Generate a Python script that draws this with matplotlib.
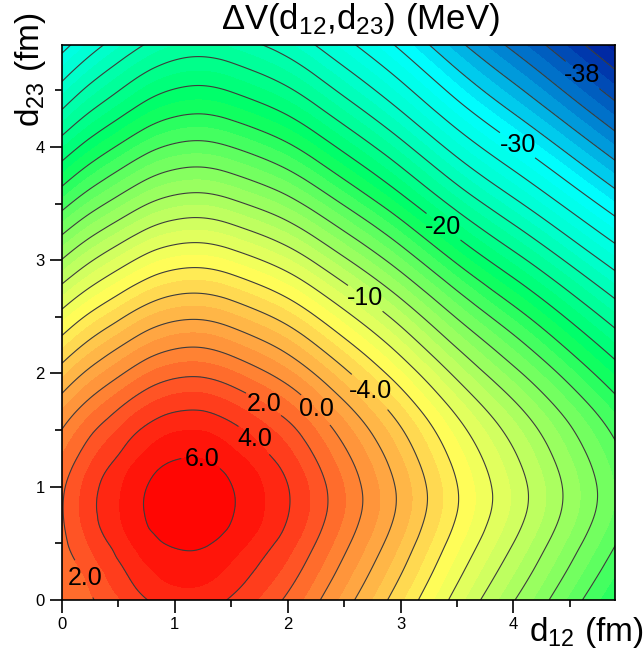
import numpy as np
import matplotlib
matplotlib.use("Agg")
import matplotlib.pyplot as plt
import matplotlib.tri as mtri
from matplotlib.colors import LinearSegmentedColormap
from matplotlib.ticker import MultipleLocator

plt.rcParams["font.family"] = ["Liberation Sans", "DejaVu Sans"]
plt.rcParams["mathtext.default"] = "regular"

# sample grid (fm)
d12 = [0.0, 0.25, 0.5, 0.75, 1.0, 1.25, 1.5, 1.75, 2.0, 2.25, 2.5, 3.0, 3.5, 4.0, 4.5, 5.0]
d23 = [0.0, 0.25, 0.5, 0.75, 1.0, 1.25, 1.5, 1.75, 2.0, 2.25, 2.5, 3.0, 3.5, 4.0, 4.5, 5.0]

# ΔV in MeV, one row per d23 value
dv_rows = [
    [1.20, 1.85, 2.87, 3.97, 4.55, 4.52, 3.86, 2.89, 1.75, 0.25, -1.39, -4.83, -8.55, -11.91, -15.25, -18.59],
    [1.50, 2.35, 3.68, 4.80, 5.39, 5.38, 4.73, 3.77, 2.64, 1.16, -0.47, -3.88, -7.58, -10.91, -14.22, -17.54],
    [1.75, 3.12, 4.40, 5.53, 6.13, 6.13, 5.49, 4.56, 3.44, 1.97, 0.35, -3.04, -6.70, -10.01, -13.30, -16.58],
    [1.92, 3.62, 4.91, 6.06, 6.67, 6.69, 6.06, 5.14, 4.03, 2.58, 0.97, -2.39, -6.03, -9.31, -12.57, -15.83],
    [1.80, 3.52, 4.83, 5.99, 6.62, 6.64, 6.03, 5.12, 4.03, 2.59, 0.99, -2.34, -5.96, -9.21, -12.44, -15.68],
    [1.10, 2.80, 4.13, 5.30, 5.94, 5.98, 5.38, 4.48, 3.40, 1.97, 0.39, -2.92, -6.50, -9.73, -12.94, -16.15],
    [0.04, 1.73, 3.06, 4.25, 4.90, 4.95, 4.37, 3.48, 2.42, 1.00, -0.57, -3.85, -7.41, -10.61, -13.79, -16.97],
    [-1.47, 0.23, 1.58, 2.77, 3.44, 3.51, 2.94, 2.06, 1.01, -0.39, -1.95, -5.20, -8.74, -11.91, -15.07, -18.22],
    [-3.30, -1.59, -0.23, 0.98, 1.66, 1.74, 1.19, 0.33, -0.72, -2.10, -3.64, -6.87, -10.38, -13.53, -16.66, -19.79],
    [-5.29, -3.57, -2.19, -0.97, -0.27, -0.18, -0.73, -1.57, -2.60, -3.98, -5.50, -8.71, -12.19, -15.31, -18.42, -21.52],
    [-7.40, -5.66, -4.28, -3.04, -2.33, -2.23, -2.76, -3.59, -4.61, -5.97, -7.48, -10.66, -14.12, -17.21, -20.29, -23.37],
    [-11.92, -10.16, -8.74, -7.48, -6.75, -6.62, -7.12, -7.93, -8.92, -10.25, -11.74, -14.87, -18.27, -21.31, -24.34, -27.36],
    [-16.59, -14.80, -13.36, -12.07, -11.31, -11.15, -11.64, -12.42, -13.38, -14.69, -16.15, -19.22, -22.57, -25.56, -28.54, -31.51],
    [-21.11, -19.30, -17.83, -16.52, -15.73, -15.54, -16.00, -16.75, -17.69, -18.97, -20.41, -23.43, -26.73, -29.67, -32.58, -35.50],
    [-25.38, -23.54, -22.05, -20.71, -19.90, -19.68, -20.11, -20.84, -21.75, -23.01, -24.42, -27.38, -30.63, -33.52, -36.38, -39.25],
    [-29.40, -27.53, -26.02, -24.65, -23.81, -23.57, -23.98, -24.68, -25.56, -26.79, -28.17, -31.09, -34.28, -37.12, -39.93, -42.75],
]

# extra samples around the maximum (cell centres of the grid above)
peak_d12 = [0.375, 0.625, 0.875, 1.125, 1.375, 1.625, 1.875]
peak_d23 = [0.125, 0.375, 0.625, 0.875, 1.125, 1.375, 1.625]
peak_rows = [
    [2.72, 3.93, 4.79, 5.05, 4.72, 3.88, 2.82],
    [3.46, 4.68, 5.56, 5.83, 5.51, 4.68, 3.64],
    [4.16, 5.40, 6.28, 6.57, 6.26, 5.45, 4.42],
    [4.35, 5.60, 6.50, 6.80, 6.50, 5.70, 4.68],
    [3.97, 5.23, 6.14, 6.46, 6.17, 5.39, 4.38],
    [3.01, 4.29, 5.22, 5.55, 5.28, 4.50, 3.51],
    [1.72, 3.02, 3.96, 4.30, 4.04, 3.28, 2.30],
]

# where the contour values are written
label_pos = [
    (1.24, 1.25), (1.73, 1.44), (1.80, 1.75), (0.20, 0.19), (2.27, 1.70),
    (2.73, 1.84), (2.70, 2.68), (3.40, 3.32), (4.04, 4.02), (4.60, 4.62),
]

# colour stops, keyed by ΔV
color_stops = [
    (-44, "#000090"), (-40, "#0030A8"), (-35, "#0090D8"), (-30.5, "#00FFFF"),
    (-26, "#00FFD0"), (-22, "#00FF90"), (-19, "#00FF60"), (-15, "#68FF60"),
    (-12, "#A0FF60"), (-9, "#D8FF60"), (-6.5, "#FFFF58"), (-5, "#FFE454"),
    (-3, "#FFC04A"), (-1, "#FFA040"), (1, "#FF7A30"), (3, "#FF4A22"),
    (5, "#FF1E0E"), (7, "#FF0000"),
]
vmin, vmax = -44, 7

X, Y = np.meshgrid(d12, d23)
PX, PY = np.meshgrid(peak_d12, peak_d23)
xs = np.concatenate([X.ravel(), PX.ravel()])
ys = np.concatenate([Y.ravel(), PY.ravel()])
zs = np.concatenate([np.ravel(dv_rows), np.ravel(peak_rows)])

tri = mtri.Triangulation(xs, ys)
interp = mtri.CubicTriInterpolator(tri, zs, kind="min_E")
tri_f, z_f = mtri.UniformTriRefiner(tri).refine_field(zs, triinterpolator=interp, subdiv=4)

cmap = LinearSegmentedColormap.from_list(
    "dv", [((v - vmin) / (vmax - vmin), c) for v, c in color_stops]
)

fill_levels = np.arange(-44, 8, 1)
line_levels = np.arange(-44, 8, 2)

fig = plt.figure(figsize=(6.43, 6.55), dpi=100)
ax = fig.add_axes([62 / 643, 1 - 600 / 655, 553 / 643, 555 / 655])

ax.tricontourf(tri_f, z_f, levels=fill_levels, cmap=cmap, vmin=vmin, vmax=vmax)
cs = ax.tricontour(tri_f, z_f, levels=line_levels, colors="#3c3c3c",
                   linewidths=0.8, negative_linestyles="solid")


def fmt(v):
    return f"{v:.1f}" if abs(v) < 10 else f"{v:.0f}"


labels = ax.clabel(cs, inline=True, fmt=fmt, fontsize=18, colors="black",
                   manual=label_pos, inline_spacing=3)
for t in labels:
    t.set_rotation(0)

ax.set_xlim(0, 4.9)
ax.set_ylim(0, 4.9)
ax.xaxis.set_major_locator(MultipleLocator(1))
ax.xaxis.set_minor_locator(MultipleLocator(0.5))
ax.yaxis.set_major_locator(MultipleLocator(1))
ax.yaxis.set_minor_locator(MultipleLocator(0.5))
ax.tick_params(which="major", direction="out", length=9, width=1.2, labelsize=12)
ax.tick_params(which="minor", direction="out", length=5, width=1.2)
for sp in ax.spines.values():
    sp.set_linewidth(1.2)

fig.text(360 / 643, 1 - 20 / 655, "ΔV(d$_{12}$,d$_{23}$) (MeV)",
         ha="center", va="center", fontsize=25)
fig.text(586 / 643, 1 - 632 / 655, "d$_{12}$ (fm)", ha="center", va="center", fontsize=24)
fig.text(31 / 643, 1 - 70 / 655, "d$_{23}$ (fm)", ha="center", va="center",
         rotation=90, fontsize=24)

fig.savefig("out.png", dpi=100)
